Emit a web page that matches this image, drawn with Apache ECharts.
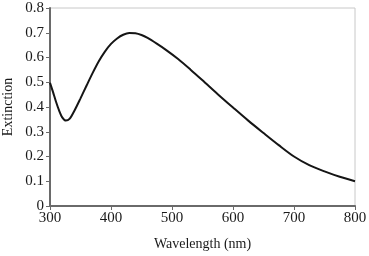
<!DOCTYPE html>
<html><head><meta charset="utf-8">
<script src="https://cdn.jsdelivr.net/npm/echarts@6/dist/echarts.min.js"></script>
<style>html,body{margin:0;padding:0;background:#fff}#c{width:369px;height:256px}</style>
</head><body><div id="c"></div>
<script>
var wavelengths = [300,305,310,315,320,326,332,340,350,360,370,380,390,400,410,420,430,440,450,460,475,490,510,530,550,575,600,625,650,675,700,725,750,775,800];
var extinction = [0.498,0.46,0.42,0.385,0.358,0.345,0.352,0.385,0.435,0.487,0.538,0.585,0.624,0.655,0.677,0.692,0.699,0.698,0.691,0.679,0.656,0.631,0.594,0.552,0.508,0.452,0.398,0.345,0.295,0.246,0.2,0.165,0.14,0.118,0.1];
var xTicks = [300,400,500,600,700,800];
var yTicks = [0,0.1,0.2,0.3,0.4,0.5,0.6,0.7,0.8];
var font = 'Liberation Serif';
var chart = echarts.init(document.getElementById('c'));
chart.setOption({
  animation:false,
  grid:{left:50,right:14,top:8,bottom:50,show:true,borderColor:'#c8c8c8',borderWidth:1,backgroundColor:'transparent',containLabel:false,outerBoundsMode:'none'},
  xAxis:{type:'value',min:xTicks[0],max:xTicks[xTicks.length-1],interval:100,
    name:'Wavelength (nm)',nameLocation:'middle',nameGap:31,
    nameTextStyle:{fontFamily:font,fontSize:14,color:'#1a1a1a'},
    axisLine:{lineStyle:{color:'#6a6a6a',width:2}},
    axisTick:{show:true,length:4,lineStyle:{color:'#6a6a6a'}},
    axisLabel:{fontFamily:font,fontSize:15,color:'#1a1a1a',margin:5},
    splitLine:{show:false}},
  yAxis:{type:'value',min:yTicks[0],max:yTicks[yTicks.length-1],interval:0.1,
    name:'Extinction',nameLocation:'middle',nameGap:35,nameMoveOverlap:false,
    nameTextStyle:{fontFamily:font,fontSize:14,color:'#1a1a1a'},
    axisLine:{show:true,lineStyle:{color:'#6a6a6a',width:2}},
    axisTick:{show:true,length:4,lineStyle:{color:'#6a6a6a'}},
    axisLabel:{fontFamily:font,fontSize:15,color:'#1a1a1a',margin:6,formatter:function(v){return String(Math.round(v*10)/10);}},
    splitLine:{show:false}},
  series:[{type:'line',data:wavelengths.map(function(w,i){return [w,extinction[i]];}),
    smooth:0.3,showSymbol:false,lineStyle:{color:'#151515',width:2}}]
});
</script></body></html>
